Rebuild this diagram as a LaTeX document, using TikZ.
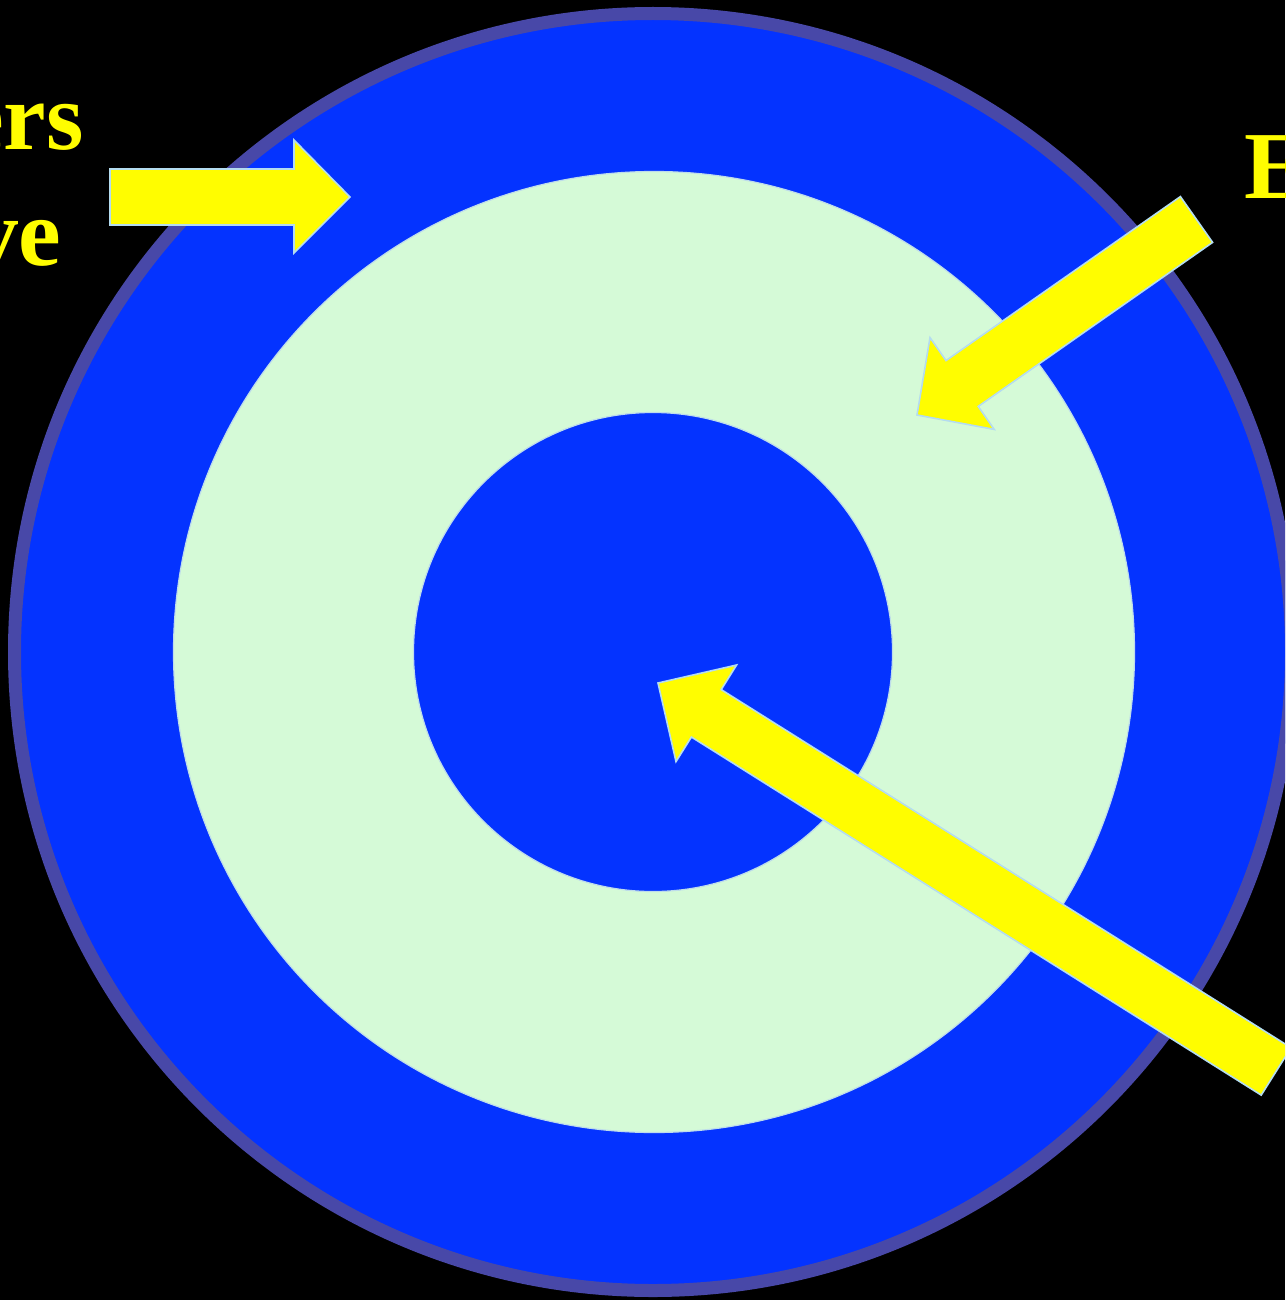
\documentclass[tikz,border=0pt]{standalone}
\usepackage{fontspec}
\setmainfont{Liberation Serif}
\definecolor{bgblack}{RGB}{0,0,0}
\definecolor{ringblue}{RGB}{4,51,255}
\definecolor{ringedge}{RGB}{72,72,168}
\definecolor{palegreen}{RGB}{213,250,215}
\definecolor{thinedge}{RGB}{190,220,235}
\definecolor{arrowyellow}{RGB}{255,253,0}
\definecolor{arrowedge}{RGB}{180,220,240}
\tikzset{
  bigtext/.style={inner sep=0pt, text=arrowyellow, font=\fontsize{96}{100}\selectfont\bfseries},
  blockarrow/.style={fill=arrowyellow, draw=arrowedge, line width=1.6pt, line join=miter},
  disc/.style={draw=thinedge, line width=1.2pt}
}
\begin{document}
\begin{tikzpicture}[x=1pt,y=-1pt]
\useasboundingbox (0,0) rectangle (1285,1300);
\clip (0,0) rectangle (1285,1300);
\fill[bgblack] (0,0) rectangle (1285,1300);
% outer disc
\draw[fill=ringblue, draw=ringedge, line width=13pt] (653,652) circle (638.5);
% middle disc
\draw[disc, fill=palegreen] (654,652) circle (480.5);
% inner disc
\draw[disc, fill=ringblue] (653,652) circle (239.5);
% arrow 1 (pointing right)
\draw[blockarrow] (110,169) -- (294,169) -- (294,140) -- (350,197) -- (294,253) -- (294,225) -- (110,225) -- cycle;
% arrow 2 (pointing down-left)
\draw[blockarrow] (1180.4,196.6) -- (946,360.6) -- (930,337.6) -- (917,415) -- (994.2,429.4) -- (978.2,406.4) -- (1212.6,242.4) -- cycle;
% arrow 3 (pointing to centre)
\draw[blockarrow] (1291,1047.7) -- (721.2,689.6) -- (736.6,665) -- (658,683) -- (676,761.6) -- (691.4,737) -- (1261.2,1095.1) -- cycle;
% texts
\node[bigtext, anchor=base east] (t1) at (84,150) {ers};
\node[bigtext, anchor=base east] (t2) at (61,265) {ve};
\node[bigtext, anchor=base west] (t3) at (1244.5,198) {E};
\end{tikzpicture}
\end{document}
